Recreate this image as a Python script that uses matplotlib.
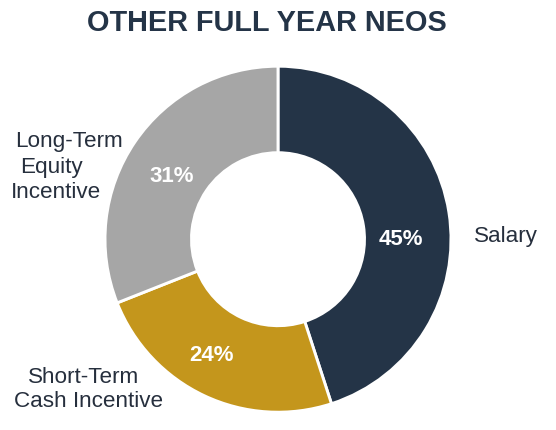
import matplotlib
matplotlib.use("Agg")
import matplotlib.pyplot as plt

categories = ["Salary", "Short-Term Cash Incentive", "Long-Term Equity Incentive"]
values = [45, 24, 31]
colors = ["#243447", "#C4961C", "#A6A6A6"]
pct_labels = ["45%", "24%", "31%"]
# category labels split in lines as shown in the chart
label_lines = [["Salary"], ["Short-Term", "Cash Incentive"], ["Long-Term", "Equity", "Incentive"]]

W, H = 556, 430
fig = plt.figure(figsize=(W / 100, H / 100), dpi=100)
cx, cy, R = 278.0, 239.2, 173.0  # pixel geometry of the donut (from top)
ax = fig.add_axes([(cx - R) / W, (H - cy - R) / H, 2 * R / W, 2 * R / H])

ax.pie(values, colors=colors, startangle=90, counterclock=False, radius=1.0,
       wedgeprops=dict(width=0.5, edgecolor="white", linewidth=2.1))
ax.set_xlim(-1, 1)
ax.set_ylim(-1, 1)
ax.set_aspect("equal")
ax.axis("off")

def fxy(x, y):
    return (x / W, 1 - y / H)

font = "Liberation Sans"
txt_color = "#262F3D"

# percent labels (center x, baseline y in pixels)
pct_pos = [(400.8, 245.0), (211.7, 360.7), (171.7, 181.7)]
for lab, (x, y) in zip(pct_labels, pct_pos):
    fig.text(*fxy(x, y), lab, ha="center", va="baseline", color="white",
             fontsize=16, fontweight="bold", family=font)

# category labels: per-line (center x, baseline y) in pixels
line_pos = [[(505.8, 241.7)],
            [(84.0, 382.7), (89.0, 407.3)],
            [(68.7, 147.3), (51.7, 173.3), (56.0, 198.3)]]
for lines, poss in zip(label_lines, line_pos):
    for s, (x, y) in zip(lines, poss):
        fig.text(*fxy(x, y), s, ha="center", va="baseline", color=txt_color,
                 fontsize=16.2, family=font)

fig.text(*fxy(267, 30.7), "OTHER FULL YEAR NEOS", ha="center", va="baseline",
         fontsize=20.8, fontweight="bold", color="#243447", family=font)

fig.savefig("out.png", dpi=100, facecolor="white")
